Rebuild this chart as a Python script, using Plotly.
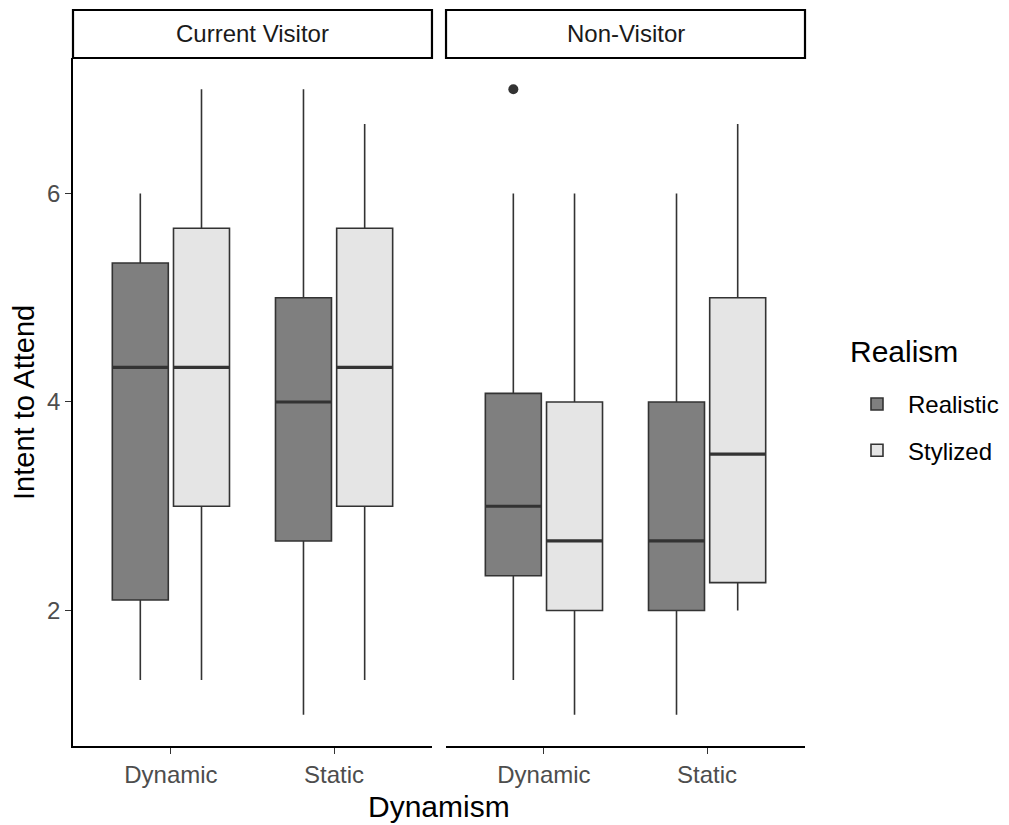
import plotly.graph_objects as go

categories = ["Dynamic", "Static"]
facets = ["Current Visitor", "Non-Visitor"]
groups = ["Realistic", "Stylized"]

# box statistics per facet / group, ordered as categories
lowerfence = {
    ("Current Visitor", "Realistic"): [1.333, 1.0],
    ("Current Visitor", "Stylized"): [1.333, 1.333],
    ("Non-Visitor", "Realistic"): [1.333, 1.0],
    ("Non-Visitor", "Stylized"): [1.0, 2.0],
}
q1 = {
    ("Current Visitor", "Realistic"): [2.1, 2.667],
    ("Current Visitor", "Stylized"): [3.0, 3.0],
    ("Non-Visitor", "Realistic"): [2.333, 2.0],
    ("Non-Visitor", "Stylized"): [2.0, 2.267],
}
median = {
    ("Current Visitor", "Realistic"): [4.333, 4.0],
    ("Current Visitor", "Stylized"): [4.333, 4.333],
    ("Non-Visitor", "Realistic"): [3.0, 2.667],
    ("Non-Visitor", "Stylized"): [2.667, 3.5],
}
q3 = {
    ("Current Visitor", "Realistic"): [5.333, 5.0],
    ("Current Visitor", "Stylized"): [5.667, 5.667],
    ("Non-Visitor", "Realistic"): [4.083, 4.0],
    ("Non-Visitor", "Stylized"): [4.0, 5.0],
}
upperfence = {
    ("Current Visitor", "Realistic"): [6.0, 7.0],
    ("Current Visitor", "Stylized"): [7.0, 6.667],
    ("Non-Visitor", "Realistic"): [6.0, 6.0],
    ("Non-Visitor", "Stylized"): [6.0, 6.667],
}
# outliers: (facet, group, category, value)
outliers = [("Non-Visitor", "Realistic", "Dynamic", 7.0)]
ytick_vals = [2, 4, 6]

fills = {"Realistic": "#7F7F7F", "Stylized": "#E5E5E5"}
LINE = "#333333"
FONT = "Liberation Sans, Arial, sans-serif"

fig = go.Figure()
for fi, facet in enumerate(facets):
    xa = "x" if fi == 0 else "x2"
    ya = "y" if fi == 0 else "y2"
    for g in groups:
        key = (facet, g)
        fig.add_trace(go.Box(
            x=categories, q1=q1[key], median=median[key], q3=q3[key],
            lowerfence=lowerfence[key], upperfence=upperfence[key],
            name=g, legendgroup=g, showlegend=(fi == 0),
            offsetgroup=g, fillcolor=fills[g],
            line=dict(color=LINE, width=1.6), whiskerwidth=0,
            boxpoints=False, xaxis=xa, yaxis=ya,
        ))
        # thicker median line overlay
        fig.add_trace(go.Box(
            x=categories, q1=median[key], median=median[key], q3=median[key],
            lowerfence=median[key], upperfence=median[key],
            name=g, legendgroup=g, showlegend=False,
            offsetgroup=g, fillcolor="rgba(0,0,0,0)",
            line=dict(color=LINE, width=3.2), whiskerwidth=0,
            boxpoints=False, xaxis=xa, yaxis=ya, hoverinfo="skip",
        ))
    for (of, og, oc, ov) in outliers:
        if of != facet:
            continue
        fig.add_trace(go.Box(
            x=[oc], y=[ov], name=og, legendgroup=og, showlegend=False,
            offsetgroup=og, boxpoints="all", jitter=0, pointpos=0,
            fillcolor="rgba(0,0,0,0)", line=dict(color="rgba(0,0,0,0)", width=0),
            marker=dict(color=LINE, size=10), xaxis=xa, yaxis=ya,
        ))

ytop = 0.9348
xdom1 = [0, 0.4904]
xdom2 = [0.5096, 1]
tickfont = dict(family=FONT, size=24, color="#4D4D4D")
axis_common = dict(
    type="category", categoryorder="array", categoryarray=categories,
    range=[-0.6, 1.6], showgrid=False, zeroline=False,
    showline=True, linecolor="#000000", linewidth=1.6,
    ticks="outside", ticklen=6, tickcolor=LINE, tickwidth=1.4,
    tickfont=tickfont, ticklabelstandoff=0,
)
yaxis_common = dict(
    range=[0.7, 7.3], showgrid=False, zeroline=False,
    tickvals=ytick_vals, domain=[0, ytop],
)
fig.update_layout(
    xaxis=dict(domain=xdom1, anchor="y", **axis_common),
    xaxis2=dict(domain=xdom2, anchor="y2", **axis_common),
    yaxis=dict(anchor="x", showline=True, linecolor="#000000", linewidth=1.6,
               ticks="outside", ticklen=6, tickcolor=LINE, tickwidth=1.4,
               tickfont=tickfont, ticklabelstandoff=0,
               **yaxis_common),
    yaxis2=dict(anchor="x2", showline=False, showticklabels=False, ticks="",
                **yaxis_common),
    boxmode="group", boxgap=0.25, boxgroupgap=0.085,
    width=1001, height=817,
    margin=dict(l=65, r=204, t=2, b=79),
    plot_bgcolor="white", paper_bgcolor="white",
    font=dict(family=FONT, color="#1A1A1A"),
    legend=dict(
        font=dict(family=FONT, size=24, color="#000000"),
        x=1.056, xanchor="left", y=0.4946, yanchor="top",
        tracegroupgap=12, itemwidth=52, traceorder="grouped",
    ),
    showlegend=True,
)

# legend title
fig.add_annotation(text="Realism", xref="paper", yref="paper",
                   x=(848 - 73) / 732, y=(746 - 351) / 736,
                   xanchor="left", yanchor="middle", showarrow=False,
                   font=dict(family=FONT, size=30, color="#000000"))

# facet strips
for dom, label in [(xdom1, facets[0]), (xdom2, facets[1])]:
    fig.add_shape(type="rect", xref="paper", yref="paper",
                  x0=dom[0], x1=dom[1], y0=ytop, y1=1.0,
                  line=dict(color="#000000", width=2.2), fillcolor="white", layer="below")
    fig.add_annotation(text=label, xref="paper", yref="paper",
                       x=(dom[0] + dom[1]) / 2, y=(ytop + 1) / 2,
                       xanchor="center", yanchor="middle",
                       showarrow=False, font=dict(family=FONT, size=24, color="#1A1A1A"))

# axis titles
fig.add_annotation(text="Dynamism", xref="paper", yref="paper", x=0.5, y=-0.082,
                   xanchor="center", yanchor="middle", showarrow=False,
                   font=dict(family=FONT, size=30, color="#000000"))
fig.add_annotation(text="Intent to Attend", xref="paper", yref="paper", x=-0.067, y=ytop / 2,
                   xanchor="center", yanchor="middle", textangle=-90, showarrow=False,
                   font=dict(family=FONT, size=29, color="#000000"))

fig.write_html("out.html")
